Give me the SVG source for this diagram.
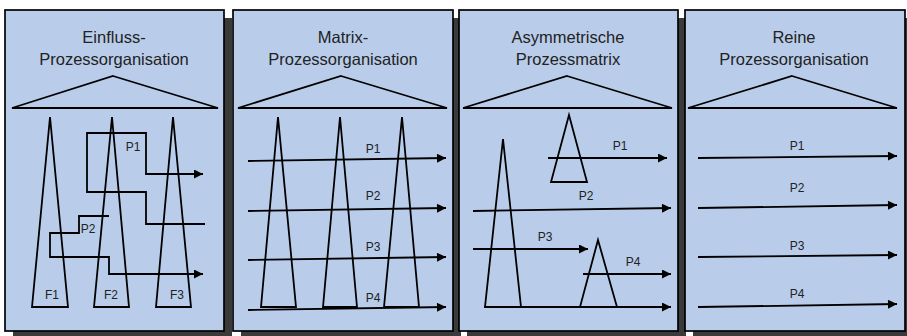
<svg xmlns="http://www.w3.org/2000/svg" width="907" height="336" viewBox="0 0 907 336">
<style>
.shadow{fill:#3a3a3a;stroke:none}
.panel{fill:#b9cdea;stroke:#000;stroke-width:1.7}
.ln{fill:none;stroke:#000;stroke-width:1.8}
.title{font-family:"Liberation Sans",Arial,sans-serif;font-size:16.5px;fill:#222;text-anchor:middle}
.lbl{font-family:"Liberation Sans",Arial,sans-serif;font-size:12px;fill:#222;text-anchor:middle}
</style>
<defs>
<marker id="arr" viewBox="0 0 10 10" refX="10" refY="5" markerWidth="10" markerHeight="9" markerUnits="userSpaceOnUse" orient="auto">
<path d="M0,0 L10,5 L0,10 z" fill="#000"/>
</marker>
</defs>
<rect fill="#fff" width="907" height="336"/>
<g id="shadows">
<rect class="shadow" x="13" y="18" width="219" height="321"/>
<rect class="shadow" x="241" y="18" width="220" height="321"/>
<rect class="shadow" x="467" y="18" width="219" height="321"/>
<rect class="shadow" x="693" y="18" width="220" height="321"/>
</g>
<g id="panel1">
<rect class="panel" x="5" y="10" width="219" height="321"/>
<text class="title" x="114" y="43">Einfluss-</text>
<text class="title" x="114" y="65">Prozessorganisation</text>
<polygon class="ln" points="113,76 218,108 12,108"/>
<polygon class="ln" points="50,117 68,307 32,307"/>
<polygon class="ln" points="112,117 129,307 94,307"/>
<polygon class="ln" points="173,117 191,307 156,307"/>
<text class="lbl" x="52" y="299">F1</text>
<text class="lbl" x="111" y="299">F2</text>
<text class="lbl" x="177" y="299">F3</text>
</g>
<g id="panel2">
<rect class="panel" x="233" y="10" width="220" height="321"/>
<text class="title" x="343" y="43">Matrix-</text>
<text class="title" x="343" y="65">Prozessorganisation</text>
<polygon class="ln" points="341,76 447,108 238,108"/>
<polygon class="ln" points="278,117 296,307 261,307"/>
<polygon class="ln" points="340,117 357,307 323,307"/>
<polygon class="ln" points="402,117 419,307 384,307"/>
</g>
<g id="panel3">
<rect class="panel" x="459" y="10" width="219" height="321"/>
<text class="title" x="568" y="43">Asymmetrische</text>
<text class="title" x="568" y="65">Prozessmatrix</text>
<polygon class="ln" points="567,76 672,108 463,108"/>
<polygon class="ln" points="503,139 521,307 485,307"/>
<polygon class="ln" points="569,115 587,182 551,182"/>
<polygon class="ln" points="598,240 617,307 580,307"/>
</g>
<g id="panel4">
<rect class="panel" x="685" y="10" width="220" height="321"/>
<text class="title" x="794" y="43">Reine</text>
<text class="title" x="794" y="65">Prozessorganisation</text>
<polygon class="ln" points="792,76 897,108 688,108"/>
</g>
<g id="connectors">
<polyline class="ln" points="205,224 146,224 146,192 87,192 87,133 146,133 146,174 203,174" marker-end="url(#arr)"/>
<polyline class="ln" points="109,216 79,216 79,233 50,233 50,257 109,257 109,274 203,274" marker-end="url(#arr)"/>
<line class="ln" x1="248" y1="161" x2="446" y2="158" marker-end="url(#arr)"/>
<line class="ln" x1="248" y1="211" x2="446" y2="208" marker-end="url(#arr)"/>
<line class="ln" x1="248" y1="260" x2="446" y2="257" marker-end="url(#arr)"/>
<line class="ln" x1="248" y1="310" x2="446" y2="307" marker-end="url(#arr)"/>
<line class="ln" x1="548" y1="158" x2="667" y2="158" marker-end="url(#arr)"/>
<line class="ln" x1="473" y1="211" x2="671" y2="208" marker-end="url(#arr)"/>
<line class="ln" x1="473" y1="249" x2="588" y2="249" marker-end="url(#arr)"/>
<line class="ln" x1="583" y1="274" x2="671" y2="274" marker-end="url(#arr)"/>
<line class="ln" x1="484" y1="307" x2="671" y2="307" marker-end="url(#arr)"/>
<line class="ln" x1="698" y1="158" x2="897" y2="156" marker-end="url(#arr)"/>
<line class="ln" x1="698" y1="208" x2="897" y2="205" marker-end="url(#arr)"/>
<line class="ln" x1="698" y1="257" x2="897" y2="255" marker-end="url(#arr)"/>
<line class="ln" x1="698" y1="307" x2="897" y2="304" marker-end="url(#arr)"/>
<text class="lbl" x="133" y="151">P1</text>
<text class="lbl" x="88" y="233">P2</text>
<text class="lbl" x="373" y="153">P1</text>
<text class="lbl" x="373" y="200">P2</text>
<text class="lbl" x="373" y="251">P3</text>
<text class="lbl" x="373" y="302">P4</text>
<text class="lbl" x="620" y="150">P1</text>
<text class="lbl" x="586" y="200">P2</text>
<text class="lbl" x="545" y="241">P3</text>
<text class="lbl" x="633" y="266">P4</text>
<text class="lbl" x="797" y="150">P1</text>
<text class="lbl" x="797" y="192">P2</text>
<text class="lbl" x="797" y="250">P3</text>
<text class="lbl" x="797" y="298">P4</text>
</g>
</svg>
